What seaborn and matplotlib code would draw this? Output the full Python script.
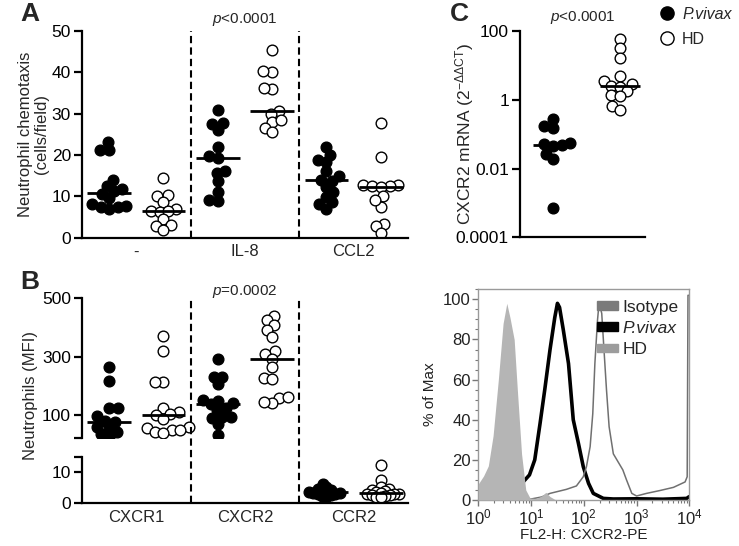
import numpy as np
import pandas as pd
import seaborn as sns
import matplotlib.pyplot as plt
from matplotlib.lines import Line2D
from matplotlib.patches import Patch
from matplotlib.ticker import MultipleLocator, LogLocator, NullFormatter
import matplotlib.transforms as mtransforms

sns.set_style('ticks')
plt.rcParams['font.family'] = ['Liberation Sans', 'DejaVu Sans']
plt.rcParams['mathtext.fontset'] = 'custom'
plt.rcParams['mathtext.rm'] = 'Liberation Sans'
plt.rcParams['mathtext.it'] = 'Liberation Sans:italic'
plt.rcParams['mathtext.bf'] = 'Liberation Sans:bold'

# A: neutrophil chemotaxis (cells/field)
chemo_cats = ['-', 'IL-8', 'CCL2']
chemo_none_pv = [23.2, 21.2, 21.3, 14.0, 12.5, 11.8, 11.2, 10.5, 9.5, 8.0, 7.5, 7.6, 7.0, 7.4]
chemo_none_hd = [14.5, 10.3, 10.0, 8.6, 7.0, 6.4, 6.2, 6.3, 4.4, 3.0, 2.7, 1.8]
chemo_il8_pv = [30.9, 27.7, 27.5, 26.0, 21.9, 19.8, 19.2, 16.1, 15.7, 13.7, 11.0, 8.9, 9.2]
chemo_il8_hd = [45.5, 40.0, 40.2, 36.0, 36.3, 30.6, 30.0, 28.0, 28.4, 26.5, 25.5]
chemo_ccl2_pv = [21.8, 20.0, 18.7, 18.2, 16.0, 15.0, 14.0, 13.8, 12.3, 11.0, 9.8, 8.5, 8.0, 7.0]
chemo_ccl2_hd = [27.8, 19.5, 12.8, 12.6, 12.5, 12.4, 12.3, 10.0, 7.5, 9.0, 3.3, 2.7, 1.0]

# B: receptor expression (MFI)
mfi_cats = ['CXCR1', 'CXCR2', 'CCR2']
mfi_cxcr1_pv = [265, 215, 123, 123, 95, 80, 75, 60, 55, 40, 35, 25]
mfi_cxcr1_hd = [370, 320, 212, 212, 123, 111, 103, 100, 85, 60, 55, 48, 42, 37, 50]
mfi_cxcr2_pv = [292, 231, 231, 206, 151, 148, 140, 136, 124, 118, 94, 94, 90, 69, 31]
mfi_cxcr2_hd = [440, 425, 410, 392, 368, 320, 310, 293, 263, 226, 222, 157, 162, 140, 146]
mfi_ccr2_pv = [6.0, 5.0, 4.5, 4.0, 3.8, 3.5, 3.5, 3.3, 3.2, 3.0, 2.8, 2.5, 2.2, 2.0]
mfi_ccr2_hd = [12.2, 7.5, 5.0, 4.5, 4.0, 3.8, 3.5, 3.3, 3.0, 3.0, 2.8, 2.5, 2.5, 2.2, 2.0, 1.8]

# C: CXCR2 mRNA
mrna_pv = [0.28, 0.15, 0.17, 0.055, 0.052, 0.047, 0.045, 0.027, 0.019, 0.0007]
mrna_hd = [60, 32, 16, 4.8, 3.6, 2.9, 2.5, 2.4, 1.8, 1.4, 1.3, 0.65, 0.5]

# D: flow histograms (log10 FL2-H, % of max)
iso_log = [0, 0.1, 0.19, 0.28, 0.38, 0.47, 0.54, 0.6, 0.68, 0.74, 0.82, 0.9, 0.98, 1.1, 1.2, 1.28, 1.36, 1.45, 1.6, 4.0]
iso_pct = [8, 12, 17, 32, 60, 88, 98, 91, 80, 55, 23, 5, 1, 0.8, 2, 3.8, 1.7, 0.3, 0, 0]
pv_log = [0, 0.5, 0.7, 0.85, 0.97, 1.07, 1.17, 1.26, 1.36, 1.45, 1.5, 1.54, 1.61, 1.71, 1.8, 1.9,
          1.99, 2.09, 2.18, 2.37, 2.56, 3.0, 3.5, 3.95, 4.0]
pv_pct = [0.5, 1, 4, 9, 12.5, 20, 38, 55, 75, 91, 98, 96, 85, 68, 40, 28,
          16.6, 8.3, 3.3, 0.8, 0.5, 0.6, 0.4, 0.8, 1.7]
hd_log = [0, 1.0, 1.2, 1.36, 1.67, 1.86, 1.99, 2.05, 2.12, 2.17, 2.21, 2.26, 2.29, 2.34, 2.38, 2.43,
          2.48, 2.56, 2.65, 2.74, 2.81, 2.91, 3.0, 3.19, 3.44, 3.7, 3.92, 3.96, 3.975, 4.0]
hd_pct = [0.3, 0.5, 1.5, 3.3, 5.3, 7, 11.6, 16.6, 26.6, 43, 68, 89.7, 98.3, 93, 76, 55,
          36.5, 23, 19, 15, 10, 3.3, 2, 3.3, 4.7, 6.3, 9, 11.6, 102, 102]

W, H = 739, 546
fig = plt.figure(figsize=(W / 100, H / 100), dpi=100)
swarm_axes = []


def box(x0, y_top, x1, y_bot):
    return [x0 / W, 1 - y_bot / H, (x1 - x0) / W, (y_bot - y_top) / H]


def long_df(groups):
    rows = []
    for pos, (pv, hd) in enumerate(groups):
        rows += [(pos - 0.25, 'P.vivax', v) for v in pv]
        rows += [(pos + 0.25, 'HD', v) for v in hd]
    return pd.DataFrame(rows, columns=['pos', 'group', 'value'])


def dots(ax, df, half=0.2, layout_size=5.0):
    # swarm laid out with a small marker so points overlap a bit, like the original
    for grp, fc in [('P.vivax', 'black'), ('HD', 'white')]:
        sub = df[df['group'] == grp]
        sns.swarmplot(data=sub, x='pos', y='value', native_scale=True, orient='x',
                      size=layout_size, color=fc, edgecolor='black', linewidth=1.0, ax=ax, zorder=2)
    med = df.groupby('pos')['value'].median()
    ax.hlines(med.values, med.index - half, med.index + half, color='black', lw=2, zorder=4)
    ax.set_xlabel('')
    ax.set_ylabel('')
    swarm_axes.append(ax)


def style_ax(ax):
    for s in ['top', 'right']:
        ax.spines[s].set_visible(False)
    for s in ['left', 'bottom']:
        ax.spines[s].set_linewidth(1.6)
        ax.spines[s].set_color('black')
    ax.tick_params(axis='y', length=6, width=1.6, labelsize=12.5, pad=2, colors='black')
    ax.tick_params(axis='x', length=0, labelsize=12, pad=5)


# ---- panel A
axA = fig.add_axes(box(82, 31, 408, 237.5))
dfA = long_df([(chemo_none_pv, chemo_none_hd), (chemo_il8_pv, chemo_il8_hd), (chemo_ccl2_pv, chemo_ccl2_hd)])
dots(axA, dfA)
axA.set_xlim(-0.5, 2.5)
axA.set_ylim(0, 50)
axA.set_yticks([0, 10, 20, 30, 40, 50])
axA.set_xticks([0, 1, 2])
axA.set_xticklabels(chemo_cats)
style_ax(axA)
for xv in [0.5, 1.5]:
    axA.axvline(xv, color='black', lw=1.5, ls=(0, (3.5, 2)), zorder=1)
axA.set_ylabel('Neutrophil chemotaxis\n(cells/field)', fontsize=12, labelpad=2, linespacing=1.1)

# ---- panel B (broken axis)
axBt = fig.add_axes(box(82, 298.3, 408, 438.3))
axBb = fig.add_axes(box(82, 456.7, 408, 502.7))
dfBt = long_df([(mfi_cxcr1_pv, mfi_cxcr1_hd), (mfi_cxcr2_pv, mfi_cxcr2_hd)])
dfBb = long_df([([], []), ([], []), (mfi_ccr2_pv, mfi_ccr2_hd)])
dots(axBt, dfBt)
dots(axBb, dfBb, layout_size=2.2)
for ax in [axBt, axBb]:
    ax.set_xlim(-0.5, 2.5)
    style_ax(ax)
axBt.set_ylim(20, 500)
axBt.set_yticks([20, 100, 300, 500])
axBt.set_yticklabels(['', '100', '300', '500'])
axBt.spines['bottom'].set_visible(False)
axBt.set_xticks([])
axBb.set_ylim(0, 15)
axBb.set_yticks([0, 10, 15])
axBb.set_yticklabels(['0', '10', ''])
axBb.set_xticks([0, 1, 2])
axBb.set_xticklabels(mfi_cats)
trans = mtransforms.blended_transform_factory(axBb.transData, fig.transFigure)
for xv in [0.5, 1.5]:
    fig.add_artist(Line2D([xv, xv], [1 - 502.7 / H, 1 - 298.3 / H], transform=trans,
                          color='black', lw=1.5, ls=(0, (3.5, 2)), zorder=1))
fig.text(31 / W, 1 - 395 / H, 'Neutrophils (MFI)', rotation=90, ha='center', va='center', fontsize=12)

# ---- panel C
axC = fig.add_axes(box(520, 31, 645, 237.3))
axC.set_yscale('log')
dfC = pd.DataFrame([(0, 'P.vivax', v) for v in mrna_pv] + [(1, 'HD', v) for v in mrna_hd],
                   columns=['pos', 'group', 'value'])
dots(axC, dfC, half=0.3)
axC.set_xlim(-0.49, 1.37)
axC.set_ylim(1e-4, 100)
axC.set_yticks([1e-4, 1e-2, 1, 100])
axC.set_yticklabels(['0.0001', '0.01', '1', '100'])
axC.yaxis.set_minor_locator(LogLocator(numticks=1))
axC.yaxis.set_minor_formatter(NullFormatter())
axC.set_xticks([])
style_ax(axC)
axC.tick_params(axis='y', which='minor', length=0)
fig.text(465 / W, 1 - 134 / H, r'CXCR2 mRNA (2$^{\mathregular{-\Delta\Delta CT}}$)', rotation=90,
         ha='center', va='center', fontsize=12.5)

handles = [Line2D([], [], marker='o', ls='', ms=9.5, mfc='black', mec='black', mew=1),
           Line2D([], [], marker='o', ls='', ms=9.5, mfc='white', mec='black', mew=1)]
legC = fig.legend(handles, ['P.vivax', 'HD'], loc='upper left', bbox_to_anchor=(659 / W, 1 - 7 / H),
                  frameon=False, fontsize=11.5, handlelength=1.0, handletextpad=0.45,
                  labelspacing=0.6, borderaxespad=0, borderpad=0)
legC.get_texts()[0].set_style('italic')

# ---- panel D
axD = fig.add_axes(box(478.3, 289.3, 689.3, 500))
iso_x = 10 ** np.array(iso_log)
axD.fill_between(iso_x, iso_pct, color='#b5b5b5', lw=0, zorder=3)
sns.lineplot(x=10 ** np.array(pv_log), y=pv_pct, color='black', lw=2.6, sort=False,
             estimator=None, ax=axD, zorder=2)
sns.lineplot(x=10 ** np.array(hd_log), y=hd_pct, color='#707070', lw=1.1, sort=False,
             estimator=None, ax=axD, zorder=2)
axD.set_xscale('log')
axD.set_xlim(1, 1e4)
axD.set_ylim(0, 105)
axD.set_yticks([0, 20, 40, 60, 80, 100])
axD.yaxis.set_minor_locator(MultipleLocator(5))
axD.xaxis.set_major_locator(LogLocator(numticks=10))
axD.xaxis.set_minor_locator(LogLocator(subs=np.arange(2, 10), numticks=10))
for s in axD.spines.values():
    s.set_color('#9a9a9a')
    s.set_linewidth(1.0)
axD.tick_params(which='major', length=4, width=1, color='#777777', labelsize=12, labelcolor='#222222', pad=1.5)
axD.tick_params(which='minor', length=2, width=0.8, color='#777777')
axD.set_xlabel('FL2-H: CXCR2-PE', fontsize=11, labelpad=0, color='#222222')
axD.set_ylabel('% of Max', fontsize=11, labelpad=4, color='#222222')
legD = axD.legend([Patch(color='#7a7a7a'), Patch(color='black'), Patch(color='#9c9c9c')],
                  ['Isotype', 'P.vivax', 'HD'], loc='upper right', frameon=False, fontsize=12.5,
                  handlelength=1.2, handleheight=0.35, handletextpad=0.3, labelspacing=0.35,
                  borderaxespad=0.2)
legD.get_texts()[1].set_style('italic')

# ---- panel letters and p values
for lbl, x, y in [('A', 20, 14), ('B', 20, 282), ('C', 450, 14)]:
    fig.text(x / W, 1 - y / H, lbl, fontsize=19, fontweight='bold', ha='left', va='center')
fig.text(245 / W, 1 - 19 / H, r'$\it{p}$<0.0001', fontsize=11, ha='center', va='center')
fig.text(245 / W, 1 - 292 / H, r'$\it{p}$=0.0002', fontsize=11, ha='center', va='center')
fig.text(583 / W, 1 - 17 / H, r'$\it{p}$<0.0001', fontsize=11, ha='center', va='center')

# lay the swarms out once, then freeze them and draw the markers at full size
fig.canvas.draw()
for ax in swarm_axes:
    for coll in ax.collections:
        if 'draw' in coll.__dict__:
            del coll.draw
            coll.set_sizes([7.7 ** 2])

fig.savefig('out.png', dpi=100)
